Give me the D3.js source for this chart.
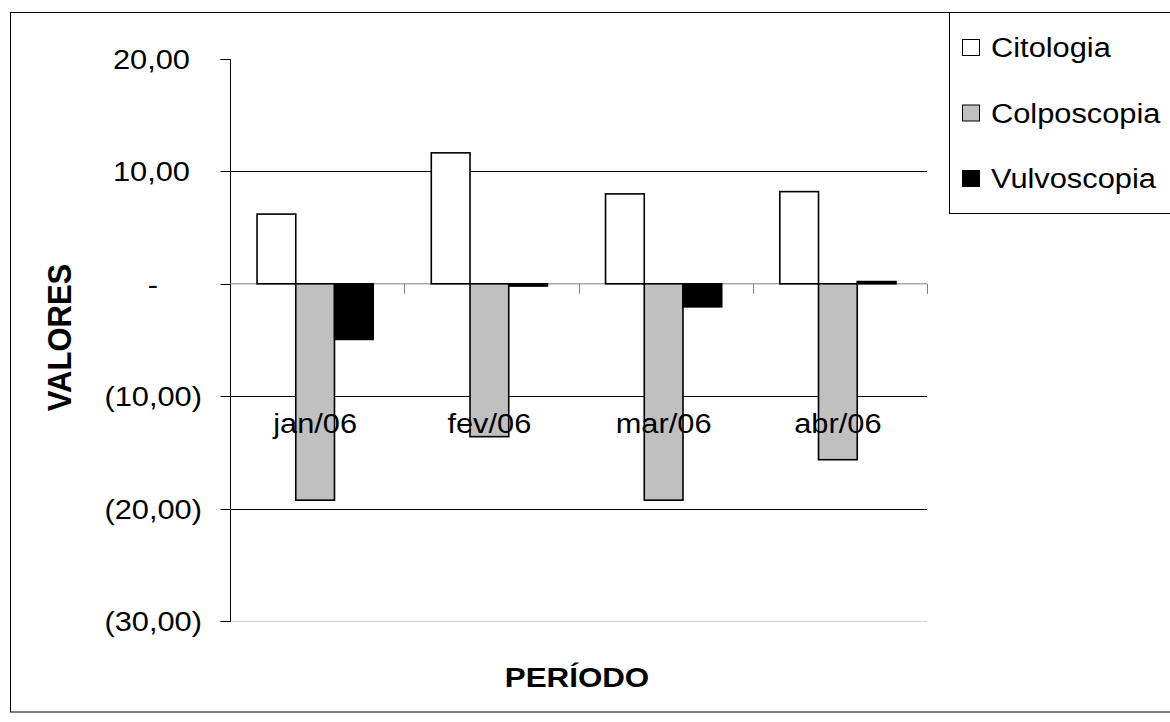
<!DOCTYPE html>
<html>
<head>
<meta charset="utf-8">
<script src="https://cdn.jsdelivr.net/npm/d3@7/dist/d3.min.js"></script>
<style>
  html, body { margin: 0; padding: 0; background: #fff; }
  svg { display: block; }
  text { font-family: "Liberation Sans", Arial, sans-serif; fill: #000; }
</style>
</head>
<body>
<svg id="chart" width="1170" height="722"></svg>
<script>
// Monthly variation per exam type
const categories = ["jan/06", "fev/06", "mar/06", "abr/06"];
const seriesNames = ["Citologia", "Colposcopia", "Vulvoscopia"];
const citologia = [6.2, 11.65, 8.0, 8.2];
const colposcopia = [-19.25, -13.6, -19.25, -15.65];
const vulvoscopia = [-4.95, -0.2, -2.05, 0.2];
const yTicks = [20, 10, 0, -10, -20, -30];
const yTickLabels = ["20,00", "10,00", "-", "(10,00)", "(20,00)", "(30,00)"];
const seriesColors = ["#ffffff", "#c0c0c0", "#000000"];

const seriesValues = [citologia, colposcopia, vulvoscopia];
const svg = d3.select("#chart");
const SX = 1.1; // horizontal text stretch

const plot = { left: 230, right: 927, top: 59, bottom: 621 };

const y = d3.scaleLinear().domain([-30, 20]).range([plot.bottom, plot.top]);
const x = d3.scaleBand().domain(categories).range([plot.left, plot.right]).padding(0);
const bw = x.bandwidth();
const barW = bw / 4.5;
const xs = d3.scaleBand().domain(seriesNames)
  .range([bw * 0.75 / 4.5 - 2, bw * 0.75 / 4.5 - 2 + barW * 3]).padding(0);

function label(g, px, py, str, anchor, size, weight, rotate) {
  return g.append("text")
    .attr("transform", `translate(${px},${py}) scale(${SX},1)` + (rotate ? ` rotate(${rotate})` : ""))
    .attr("text-anchor", anchor)
    .style("font-size", size + "px")
    .style("font-weight", weight || "normal")
    .text(str);
}

// Outer frame
svg.append("rect").attr("x", 10.5).attr("y", 12.5).attr("width", 1180).attr("height", 699.5)
  .attr("fill", "none").attr("stroke", "#000").attr("stroke-width", 1);

// Horizontal gridlines
const grid = svg.append("g");
yTicks.filter(v => v !== 0 && v !== 20).forEach(v => {
  grid.append("line")
    .attr("x1", plot.left).attr("x2", plot.right)
    .attr("y1", Math.round(y(v)) + 0.5).attr("y2", Math.round(y(v)) + 0.5)
    .attr("stroke", v === -30 ? "#d0d0d0" : "#000").attr("stroke-width", 1);
});

// Value axis
const yAxis = d3.axisLeft(y).tickValues(yTicks).tickSize(10).tickFormat("");
const yg = svg.append("g").attr("transform", `translate(${plot.left + 0.5},0.5)`).call(yAxis);
yg.select(".domain").attr("stroke", "#000").attr("d", `M-10,${Math.round(y(20))}H0V${Math.round(y(-30))}H-10`);
yg.selectAll(".tick line").attr("stroke", "#000");
yg.selectAll(".tick").attr("transform", d => `translate(0,${Math.round(y(d))})`);

const ylabels = svg.append("g");
yTicks.forEach((v, i) => {
  const t = yTickLabels[i];
  const ty = y(v) + 10;
  if (t === "-") label(ylabels, 153, ty, t, "middle", 28);
  else if (t.startsWith("(")) label(ylabels, 202, ty, t, "end", 28);
  else label(ylabels, 190, ty, t, "end", 28);
});

// Bars
const bars = svg.append("g");
seriesNames.forEach((s, si) => {
  bars.selectAll(null)
    .data(categories.map((c, ci) => ({ c, v: seriesValues[si][ci] })))
    .join("rect")
    .attr("x", d => x(d.c) + xs(s))
    .attr("width", xs.bandwidth())
    .attr("y", d => y(Math.max(0, d.v)))
    .attr("height", d => Math.abs(y(d.v) - y(0)))
    .attr("fill", seriesColors[si])
    .attr("stroke", "#000")
    .attr("stroke-width", 1.6);
});

// Category axis at zero
const xAxisG = svg.append("g");
xAxisG.append("line")
  .attr("x1", plot.left).attr("x2", plot.right)
  .attr("y1", y(0)).attr("y2", y(0))
  .attr("stroke", "#808080").attr("stroke-width", 1);
categories.forEach(c => {
  const tx = Math.round(x(c) + bw) + 0.5;
  xAxisG.append("line")
    .attr("x1", tx).attr("x2", tx)
    .attr("y1", y(0)).attr("y2", y(0) + 10)
    .attr("stroke", "#808080").attr("stroke-width", 1);
});
// Redraw bar outlines on top of the axis line
bars.raise();

const xlabels = svg.append("g");
categories.forEach(c => {
  label(xlabels, x(c) + bw / 2 - 2, 433, c, "middle", 28);
});

// Axis titles
label(svg, 71, 337.5, "VALORES", "middle", 31, "bold", -90);
label(svg, 577, 687, "PERÍODO", "middle", 28.5, "bold");

// Legend
const lg = svg.append("g");
lg.append("rect").attr("x", 949.5).attr("y", 12.5).attr("width", 240).attr("height", 201)
  .attr("fill", "#fff").attr("stroke", "#000").attr("stroke-width", 1);
seriesNames.forEach((s, i) => {
  const base = 57 + i * 65.5;
  lg.append("rect")
    .attr("x", 962.5).attr("y", base - 17.5)
    .attr("width", 17).attr("height", 16)
    .attr("fill", seriesColors[i]).attr("stroke", "#000").attr("stroke-width", 1);
  label(lg, 991, base, s, "start", 28);
});
</script>
</body>
</html>
